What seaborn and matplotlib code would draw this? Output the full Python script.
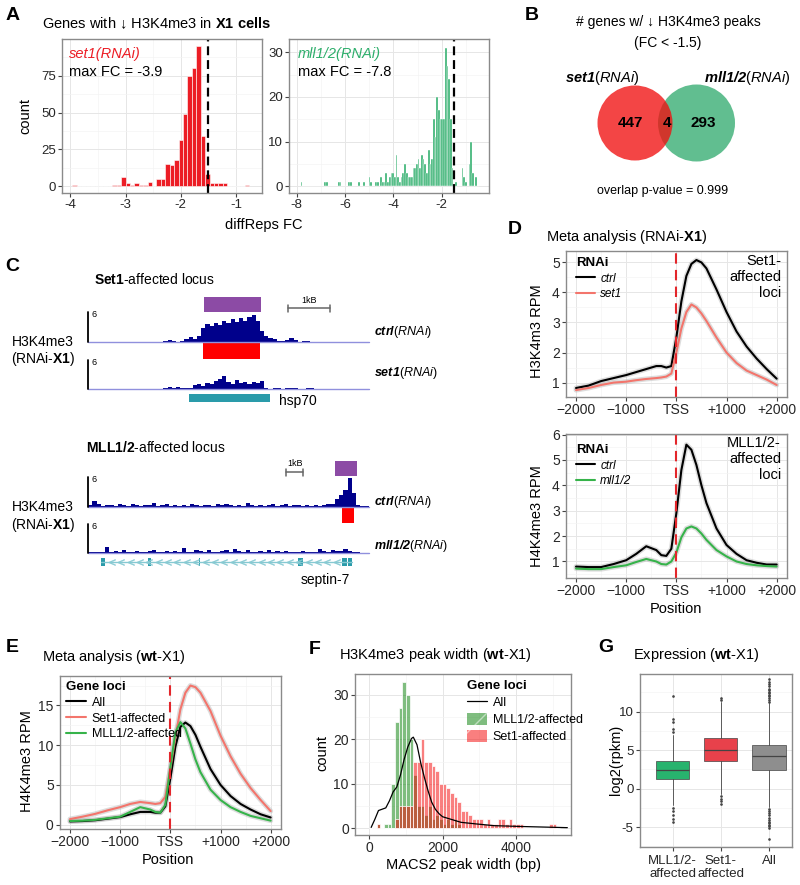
import numpy as np
import pandas as pd
import matplotlib
matplotlib.use("Agg")
import matplotlib.pyplot as plt
import seaborn as sns
from matplotlib.patches import Rectangle, Circle, Patch
from matplotlib.lines import Line2D
from matplotlib.ticker import AutoMinorLocator

# === A. diffReps FC histograms (bin centre, count) ===
set1_fc = [-3.92, -3.20, -3.12, -3.04, -2.96, -2.88, -2.80, -2.72, -2.64, -2.56,
           -2.40, -2.32, -2.24, -2.16, -2.08, -2.00, -1.92, -1.84, -1.76, -1.68,
           -1.60, -1.52, -1.44, -1.36, -1.28, -1.20, -0.80]
set1_n = [1, 1, 1, 6, 2, 1, 2, 1, 1, 3,
          5, 5, 15, 14, 18, 31, 49, 75, 80, 95,
          34, 8, 2, 2, 2, 2, 1]

mll_fc = [-7.79, -6.82, -6.75, -6.24, -6.17, -5.85, -5.78, -5.40, -5.20, -4.99,
          -4.92, -4.71, -4.64, -4.50, -4.43, -4.36,
          -4.27, -4.20, -4.13, -4.06, -3.99, -3.92, -3.85, -3.78, -3.71, -3.64,
          -3.57, -3.50, -3.43, -3.36, -3.29, -3.22, -3.15, -3.08, -3.01, -2.94,
          -2.87, -2.80, -2.73, -2.66, -2.59, -2.52, -2.45, -2.38, -2.31, -2.24,
          -2.17, -2.10, -2.03, -1.96, -1.89, -1.82, -1.75, -1.68, -1.61, -1.54,
          -1.45, -1.13, -1.06, -0.99, -0.87, -0.80, -0.73, -0.55]
mll_n = [1, 1, 1, 1, 1, 1, 1, 1, 1, 2,
         1, 1, 1, 2, 1, 1,
         3, 1, 2, 3, 3, 2, 7, 2, 1, 2,
         3, 5, 3, 2, 2, 2, 4, 4, 5, 6,
         4, 7, 6, 5, 3, 8, 5, 6, 15, 11,
         20, 17, 15, 15, 15, 31, 27, 24, 15, 4,
         1, 4, 2, 1, 5, 10, 3, 2]

# === B. venn counts (set1 only, both, mll only) ===
venn_n = [447, 4, 293]
venn_p = 0.999

# === C. coverage tracks ===
# hsp70 locus, 0.1 kb bins
hsp70_ctrl = [0] * 18 + [0.3, 0.4, 0.2, 0.1, 0.2, 0.6, 1.0, 0.6, 1.2, 2.8,
                         3.6, 3.2, 3.9, 3.5, 4.2, 3.8, 4.6, 4.0, 4.9, 4.3,
                         5.0, 5.4, 4.2, 2.3, 1.2, 0.8, 0.6, 0.3, 0.2, 0.5,
                         0.8, 0.5, 0.1, 0.3, 0.3] + [0] * 14
hsp70_set1 = [0] * 18 + [0.3, 0.4, 0.3, 0.4, 0.2, 0.3, 0.2, 0.8, 1.0, 0.7,
                         1.2, 1.1, 1.6, 2.1, 2.6, 1.5, 1.1, 1.8, 1.3, 1.5,
                         1.1, 1.4, 1.2, 1.6, 0.3, 0, 0.3, 0.2, 0, 0.3,
                         0.2, 0.3, 0, 0, 0.3, 0.2] + [0] * 13
hsp70_peak = (2.76, 4.12)
hsp70_diff = (2.74, 4.10)
hsp70_gene = (2.40, 4.33)

# septin-7 locus, 0.25 kb bins
sept_ctrl = [0.3, 1.2, 0.6, 0.2, 0.3, 0.4, 0.2, 0.5, 0.3, 0.2,
             0.6, 0.3, 0.2, 0.4, 0.3, 0.7, 0.2, 0.3, 0.5, 0.2,
             0.3, 0.2, 0.4, 0.2, 0.6, 0.3, 0.2, 0.4, 0.3, 0.2,
             0.5, 0.3, 0.6, 0.4, 0.2, 0.3, 0.2, 0.7, 0.3, 0.2,
             0.4, 0.2, 0.3, 0.5, 0.2, 0.3, 0.6, 0.2, 0.4, 0.3,
             0.2, 0.3, 0.2, 0.4, 0.2, 0.3, 0.6, 0.5, 1.6, 2.4,
             3.3, 5.8, 2.8, 0.3, 0.2, 0.1]
sept_mll = [0.2, 0.3, 0.2, 0.3, 1.3, 0.3, 0.4, 0.2, 0.6, 0.3,
            0.2, 0.5, 0.3, 0.2, 0.4, 0.6, 0.3, 0.2, 0.5, 0.3,
            0.4, 0.3, 1.1, 0.3, 0.2, 0.6, 0.4, 0.3, 0.7, 0.3,
            0.2, 0.5, 0.6, 0.3, 0.8, 0.4, 0.2, 0.7, 0.3, 0.2,
            0.5, 0.3, 0.6, 0.2, 0.4, 0.3, 0.5, 0.2, 0.3, 0.2,
            0.4, 0.3, 0.2, 0.3, 0.9, 0.4, 0.3, 0.6, 0.4, 0.5,
            0.8, 0.4, 0.3, 0.2, 0.1, 0.1]
sept_peak = (14.5, 15.8)
sept_diff = (14.9, 15.6)
sept_gene = (0.76, 15.5)
sept_exons = [(0.76, 1.0), (3.5, 3.7), (6.5, 6.6), (12.35, 12.6), (14.9, 15.2), (15.25, 15.5)]

# === D / E. meta profiles ===
meta_pos = [-2000, -1750, -1500, -1250, -1000, -800, -600, -400, -300, -200, -100, 0,
            100, 200, 300, 400, 500, 600, 800, 1000, 1200, 1400, 1600, 1800, 2000]
d_set1loci_ctrl = [0.82, 0.9, 1.05, 1.15, 1.25, 1.35, 1.45, 1.55, 1.55, 1.5, 1.55, 2.5,
                   3.7, 4.55, 4.95, 5.08, 5.0, 4.8, 4.1, 3.35, 2.7, 2.2, 1.8, 1.45, 1.13]
d_set1loci_kd = [0.75, 0.82, 0.92, 1.0, 1.03, 1.08, 1.12, 1.15, 1.17, 1.2, 1.3, 2.0,
                 2.8, 3.35, 3.6, 3.5, 3.3, 3.05, 2.5, 2.0, 1.65, 1.4, 1.25, 1.1, 0.92]
d_mllloci_ctrl = [0.8, 0.78, 0.78, 0.9, 1.05, 1.3, 1.6, 1.45, 1.25, 1.22, 1.5, 2.9,
                  4.6, 5.6, 5.4, 4.8, 4.0, 3.3, 2.3, 1.65, 1.3, 1.05, 0.95, 0.88, 0.88]
d_mllloci_kd = [0.72, 0.7, 0.7, 0.78, 0.85, 0.98, 1.1, 1.0, 0.9, 0.88, 1.0, 1.35,
                1.95, 2.3, 2.38, 2.3, 2.1, 1.85, 1.45, 1.2, 1.0, 0.9, 0.85, 0.82, 0.8]
e_all = [0.4, 0.45, 0.55, 0.75, 0.95, 1.3, 1.6, 1.6, 1.5, 1.5, 2.3, 5.8,
         9.8, 12.3, 12.85, 12.4, 11.3, 9.8, 7.0, 5.0, 3.6, 2.6, 1.9, 1.3, 0.9]
e_set1 = [0.7, 1.0, 1.35, 1.8, 2.2, 2.6, 2.85, 2.7, 2.6, 2.7, 3.5, 7.0,
          11.0, 14.5, 16.6, 17.5, 17.3, 16.6, 14.3, 11.2, 8.6, 6.4, 4.6, 3.1, 1.7]
e_mll = [0.45, 0.5, 0.6, 0.8, 1.0, 1.6, 2.2, 1.9, 1.6, 1.5, 2.5, 7.2,
         11.6, 12.9, 12.1, 10.2, 8.2, 6.6, 4.4, 3.1, 2.2, 1.6, 1.1, 0.8, 0.5]
pos_labels = ['\u22122000', '\u22121000', 'TSS', '+1000', '+2000']

# === F. MACS2 peak width ===
f_mll_bp = [250, 450, 550, 650, 750, 850, 950, 1050, 1150, 1250, 1350, 1450,
            1550, 1650, 1750, 1850, 1950, 2050, 2150, 2250, 2350, 2450]
f_mll_n = [1, 1, 1, 10, 24, 27, 33, 30, 20, 12, 5, 5,
           3, 5, 2, 3, 2, 1, 2, 1, 2, 1]
f_set1_bp = [250, 750, 850, 950, 1050, 1150, 1250, 1350, 1450, 1550, 1650, 1750, 1850,
             1950, 2050, 2150, 2250, 2350, 2450, 2550, 2650, 2750, 2850, 2950, 3050,
             3150, 3250, 3350, 3450, 3550, 3650, 3750, 3850, 3950, 4050, 4150, 4950,
             5050]
f_set1_n = [1, 2, 5, 5, 5, 5, 15, 15, 20, 15, 15, 14, 13,
            10, 10, 9, 8, 7, 6, 4, 4, 3, 2, 2, 2,
            1, 2, 1, 1, 2, 2, 1, 2, 1, 1, 1, 1,
            1]
f_all_bp = [50, 150, 250, 350, 450, 550, 650, 750, 850, 950, 1050, 1150, 1200, 1300,
            1400, 1500, 1600, 1700, 1800, 1900, 2000, 2200, 2500, 2900, 3400, 4200, 5400]
f_all_y = [0.2, 2.0, 4.0, 4.3, 4.6, 6.2, 8.2, 9.3, 12.0, 15.5, 18.3, 20.2, 20.5, 18.8,
           14.8, 11.5, 8.5, 5.9, 4.3, 3.3, 2.6, 2.1, 1.35, 1.0, 0.6, 0.4, 0.15]

# === G. expression box summaries ===
g_labels = ['MLL1/2-\naffected', 'Set1-\naffected', 'All']
g_med = [2.4, 5.0, 4.2]
g_q1 = [1.3, 3.6, 2.4]
g_q3 = [3.6, 6.6, 5.65]
g_lo = [-2.1, -0.7, -2.4]
g_hi = [7.0, 11.2, 11.1]
g_fliers = [[7.3, 7.7, 8.6, 9.1, 12.1, -2.5, -2.9, -3.5, -3.9, -4.4],
            [11.5, 11.8, -1.0, -1.3, -1.6, -2.0],
            [11.3, 11.5, 11.8, 12.0, 12.2, 12.4, 12.6, 12.8, 13.0, 13.3, 13.6, 13.9, 14.2,
             -2.6, -2.9, -3.2, -3.5, -3.8, -4.1, -4.3, -4.5, -4.7, -4.9, -5.1, -6.6]]

# colours
RED = '#EC1D25'
GREEN_A = '#2DAE6B'
SALMON = '#F3756C'
GREEN_L = '#36B34A'
F_GREEN = '#007D00'
F_RED = '#F50000'

sns.set_theme(style="white")
plt.rcParams['font.family'] = ['Liberation Sans', 'DejaVu Sans']
plt.rcParams['mathtext.fontset'] = 'custom'
plt.rcParams['mathtext.rm'] = 'Liberation Sans'
plt.rcParams['mathtext.it'] = 'Liberation Sans:italic'
plt.rcParams['mathtext.bf'] = 'Liberation Sans:bold'
plt.rcParams['mathtext.bfit'] = 'Liberation Sans:italic:bold'
plt.rcParams['axes.unicode_minus'] = False
plt.rcParams['text.color'] = 'black'

W, H = 800, 885
fig = plt.figure(figsize=(W / 100, H / 100), dpi=100)


def add_ax(x0, y0, x1, y1):
    return fig.add_axes([x0 / W, 1 - y1 / H, (x1 - x0) / W, (y1 - y0) / H])


def put(x, y, s, **kw):
    kw.setdefault('va', 'center')
    return fig.text(x / W, 1 - y / H, s, **kw)


def gg(ax, minor_x=True, minor_y=True, tsize=9.5):
    ax.set_facecolor('white')
    for sp in ax.spines.values():
        sp.set_visible(True)
        sp.set_color('#8A8A8A')
        sp.set_linewidth(1.0)
    if minor_x:
        ax.xaxis.set_minor_locator(AutoMinorLocator(2))
    if minor_y:
        ax.yaxis.set_minor_locator(AutoMinorLocator(2))
    ax.grid(True, which='major', color='#E6E6E6', lw=0.7)
    ax.grid(True, which='minor', color='#F3F3F3', lw=0.45)
    ax.set_axisbelow(True)
    ax.tick_params(which='major', bottom=True, left=True, length=3, width=0.8,
                   color='#444444', labelsize=tsize, pad=1.5)
    ax.tick_params(which='minor', length=0)
    ax.set_xlabel('')
    ax.set_ylabel('')


def letter(x, y, s):
    put(x, y, s, fontsize=14, weight='bold', ha='center')


def hist_counts(ax, centres, counts, bins, **kw):
    df = pd.DataFrame({'x': centres, 'n': counts})
    sns.histplot(data=df, x='x', weights='n', bins=[float(b) for b in bins], ax=ax, **kw)


# ---------------- A ----------------
letter(12.5, 16, 'A')
put(42, 23, 'Genes with \u2193 H3K4me3 in $\\mathbf{X1\\ cells}$', fontsize=10.5)

axA1 = add_ax(62, 39, 262, 193)
hist_counts(axA1, set1_fc, set1_n, np.arange(-3.96, -0.70, 0.08), color=RED,
            alpha=1, edgecolor='white', linewidth=0.4)
axA1.axvline(-1.5, color='black', lw=1.6, ls=(0, (4, 2.2)))
axA1.set_xlim(-4.15, -0.53)
axA1.set_ylim(-4.7, 100)
axA1.set_xticks([-4, -3, -2, -1])
axA1.set_yticks([0, 25, 50, 75])
gg(axA1)

axA2 = add_ax(289, 39, 489, 193)
hist_counts(axA2, mll_fc, mll_n, np.arange(-7.825, -0.45, 0.07), color=GREEN_A,
            alpha=1, edgecolor='white', linewidth=0.3)
axA2.axvline(-1.5, color='black', lw=1.6, ls=(0, (4, 2.2)))
axA2.set_xlim(-8.31, -0.05)
axA2.set_ylim(-1.55, 33)
axA2.set_xticks([-8, -6, -4, -2])
axA2.set_yticks([0, 10, 20, 30])
gg(axA2)

put(69, 54, 'set1(RNAi)', color=RED, style='italic', fontsize=10.5)
put(69, 72, 'max FC = -3.9', fontsize=10.5)
put(298, 54, 'mll1/2(RNAi)', color=GREEN_A, style='italic', fontsize=10.5)
put(298, 72, 'max FC = -7.8', fontsize=10.5)
put(25, 116, 'count', rotation=90, ha='center', fontsize=10.5)
put(264, 225, 'diffReps FC', ha='center', fontsize=10.5)

# ---------------- B ----------------
letter(532, 16, 'B')
put(668, 22, '# genes w/ \u2193 H3K4me3 peaks', ha='center', fontsize=10)
put(668, 43, '(FC < -1.5)', ha='center', fontsize=10)
put(602, 78, r'$\mathbfit{set1}\mathit{(RNAi)}$', ha='center', fontsize=10.5)
put(747, 78, r'$\mathbfit{mll1/2}\mathit{(RNAi)}$', ha='center', fontsize=10.5)

axB = add_ax(580, 80, 760, 170)
axB.set_xlim(580, 760)
axB.set_ylim(170, 80)
axB.axis('off')
axB.add_patch(Circle((696.5, 123), 38.5, color='#3AAE74', alpha=0.8, lw=0))
axB.add_patch(Circle((635, 123), 37.5, color='#F01010', alpha=0.78, lw=0))
for xx, nn in zip([630, 667, 703], venn_n):
    axB.text(xx, 123, str(nn), ha='center', va='center', fontsize=11, weight='bold')
put(663, 191, f'overlap p-value = {venn_p}', ha='center', fontsize=9)

# ---------------- C ----------------
letter(12.5, 266, 'C')
put(94, 280, r'$\mathbf{Set1}$-affected locus', fontsize=10)
put(86, 448, r'$\mathbf{MLL1/2}$-affected locus', fontsize=10)

NAVY = '#00008B'
PURPLE = '#8C4BA5'
TEAL = '#2A9BAA'


def track(y0, y1, xmax, cov, step):
    ax = add_ax(88, y0, 369, y1)
    xs = np.arange(len(cov) + 1) * step
    ys = list(cov) + [cov[-1]]
    ax.fill_between(xs, ys, step='post', color=NAVY, lw=0)
    ax.plot([0, xmax], [0, 0], color='#9090DD', lw=1.0, clip_on=False)
    ax.plot([0, 0], [0, 6], color='black', lw=1.3, clip_on=False)
    ax.text(0.012, 0.93, '6', transform=ax.transAxes, fontsize=6.5, ha='left', va='center')
    ax.set_xlim(0, xmax)
    ax.set_ylim(0, 6)
    ax.axis('off')
    return ax


# hsp70 locus (6.7 kb window)
axc1 = add_ax(88, 290, 369, 410)
axc1.set_xlim(0, 6.7)
axc1.set_ylim(410, 290)
axc1.axis('off')
axc1.add_patch(Rectangle((hsp70_peak[0], 297), hsp70_peak[1] - hsp70_peak[0], 15, color=PURPLE, lw=0))
axc1.add_patch(Rectangle((hsp70_diff[0], 343), hsp70_diff[1] - hsp70_diff[0], 16, color='#FF0000', lw=0))
axc1.add_patch(Rectangle((hsp70_gene[0], 394), hsp70_gene[1] - hsp70_gene[0], 8, color=TEAL, lw=0))
axc1.plot([4.76, 5.76], [308, 308], color='#666666', lw=1.1)
axc1.plot([4.76, 4.76], [304.5, 311.5], color='#666666', lw=1.1)
axc1.plot([5.76, 5.76], [304.5, 311.5], color='#666666', lw=1.1)
axc1.text(5.26, 300, '1kB', fontsize=6.5, ha='center', va='center')
axc1.text(4.55, 401, 'hsp70', fontsize=10, ha='left', va='center')
track(312, 342, 6.7, hsp70_ctrl, 0.1)
track(360, 389, 6.7, hsp70_set1, 0.1)

# septin-7 locus (16.5 kb window)
axc2 = add_ax(88, 455, 369, 590)
axc2.set_xlim(0, 16.5)
axc2.set_ylim(590, 455)
axc2.axis('off')
axc2.add_patch(Rectangle((sept_peak[0], 461), sept_peak[1] - sept_peak[0], 15, color=PURPLE, lw=0))
axc2.add_patch(Rectangle((sept_diff[0], 508), sept_diff[1] - sept_diff[0], 15, color='#FF0000', lw=0))
axc2.plot([11.65, 12.65], [472, 472], color='#666666', lw=1.1)
axc2.plot([11.65, 11.65], [468.5, 475.5], color='#666666', lw=1.1)
axc2.plot([12.65, 12.65], [468.5, 475.5], color='#666666', lw=1.1)
axc2.text(12.15, 463, '1kB', fontsize=6.5, ha='center', va='center')
axc2.plot(list(sept_gene), [562, 562], color='#86C9D2', lw=1.0)
chev = np.arange(1.4, 14.8, 0.55)
axc2.plot(chev, [562] * len(chev), ls='none', marker=r'$<$', markersize=4.5,
          color='#86C9D2', mew=0.3)
for s, e in sept_exons:
    axc2.add_patch(Rectangle((s, 558), e - s, 8, color=TEAL, lw=0))
axc2.text(13.94, 580, 'septin-7', fontsize=10, ha='center', va='center')
track(477, 507, 16.5, sept_ctrl, 0.25)
track(524, 553, 16.5, sept_mll, 0.25)

put(43, 342, 'H3K4me3', ha='center', fontsize=10)
put(43, 359, r'(RNAi-$\mathbf{X1}$)', ha='center', fontsize=10)
put(43, 507, 'H3K4me3', ha='center', fontsize=10)
put(43, 525, r'(RNAi-$\mathbf{X1}$)', ha='center', fontsize=10)
put(374, 332, r'$\mathbfit{ctrl}\mathit{(RNAi)}$', fontsize=9)
put(374, 373, r'$\mathbfit{set1}\mathit{(RNAi)}$', fontsize=9)
put(374, 502, r'$\mathbfit{ctrl}\mathit{(RNAi)}$', fontsize=9)
put(374, 546, r'$\mathbfit{mll1/2}\mathit{(RNAi)}$', fontsize=9)


# ---------------- D / E ----------------
def meta(ax, series, names, colors):
    df = pd.DataFrame({'pos': np.tile(meta_pos, len(series)),
                       'rpm': np.concatenate([np.asarray(s, float) for s in series]),
                       'grp': np.repeat(names, len(meta_pos))})
    sns.lineplot(data=df, x='pos', y='rpm', hue='grp', hue_order=names,
                 palette=dict(zip(names, ['#B5B5B5'] * len(names))),
                 linewidth=3.6, alpha=0.45, legend=False, ax=ax)
    sns.lineplot(data=df, x='pos', y='rpm', hue='grp', hue_order=names,
                 palette=dict(zip(names, colors)), linewidth=1.5, legend=False, ax=ax)
    ax.axvline(0, color='#E3262B', lw=1.5, ls=(0, (5, 3)))
    ax.set_xlim(-2200, 2206)
    ax.set_xticks([-2000, -1000, 0, 1000, 2000])
    ax.set_xticklabels(pos_labels)


def meta_legend(ax, names, colors, title, x, y, italic):
    hs = [Line2D([], [], color=c, lw=1.5) for c in colors]
    prop = {'size': 8.5 if italic else 9}
    if italic:
        prop['style'] = 'italic'
    ax.legend(hs, names, title=title, loc='upper left', bbox_to_anchor=(x / W, 1 - y / H),
              bbox_transform=fig.transFigure, frameon=False, prop=prop,
              title_fontproperties={'weight': 'bold', 'size': 9.5},
              handlelength=1.6, handletextpad=0.45, labelspacing=0.3, borderpad=0,
              borderaxespad=0, alignment='left')


letter(515, 230, 'D')
put(546, 237, r'Meta analysis (RNAi-$\mathbf{X1}$)', fontsize=10.5)

axD1 = add_ax(566, 251, 787, 397)
meta(axD1, [d_set1loci_ctrl, d_set1loci_kd], ['ctrl', 'set1'], ['black', SALMON])
axD1.set_ylim(0.52, 5.38)
axD1.set_yticks([1, 2, 3, 4, 5])
gg(axD1, tsize=10)
meta_legend(axD1, ['ctrl', 'set1'], ['black', SALMON], 'RNAi', 576, 257, True)
put(781, 254, 'Set1-\naffected\nloci', ha='right', va='top', fontsize=10.5, linespacing=1.2)
put(537, 331, 'H3K4m3 RPM', rotation=90, ha='center', fontsize=10.5)

axD2 = add_ax(566, 434, 787, 578)
meta(axD2, [d_mllloci_ctrl, d_mllloci_kd], ['ctrl', 'mll1/2'], ['black', GREEN_L])
axD2.set_ylim(0.35, 6.02)
axD2.set_yticks([1, 2, 3, 4, 5, 6])
gg(axD2, tsize=10)
meta_legend(axD2, ['ctrl', 'mll1/2'], ['black', GREEN_L], 'RNAi', 576, 444, True)
put(781, 436, 'MLL1/2-\naffected\nloci', ha='right', va='top', fontsize=10.5, linespacing=1.2)
put(537, 516, 'H4K4me3 RPM', rotation=90, ha='center', fontsize=10.5)
put(676, 609, 'Position', ha='center', fontsize=10.5)

letter(12.5, 647, 'E')
put(42, 657, r'Meta analysis ($\mathbf{wt}$-X1)', fontsize=10.5)
axE = add_ax(60, 676, 281, 829)
meta(axE, [e_all, e_set1, e_mll], ['All', 'Set1-affected', 'MLL1/2-affected'],
     ['black', SALMON, GREEN_L])
axE.set_ylim(-0.55, 18.7)
axE.set_yticks([0, 5, 10, 15])
gg(axE, tsize=10)
meta_legend(axE, ['All', 'Set1-affected', 'MLL1/2-affected'], ['black', SALMON, GREEN_L],
            'Gene loci', 66, 681, False)
put(27, 761, 'H4K4me3 RPM', rotation=90, ha='center', fontsize=10.5)
put(168, 860, 'Position', ha='center', fontsize=10.5)

# ---------------- F ----------------
letter(315, 649, 'F')
put(339, 655, r'H3K4me3 peak width ($\mathbf{wt}$-X1)', fontsize=10.5)
axF = add_ax(355, 674, 571, 835)
wbins = np.arange(0, 5300, 100)
hist_counts(axF, f_mll_bp, f_mll_n, wbins, color=F_GREEN, alpha=0.5,
            edgecolor='white', linewidth=0.5)
hist_counts(axF, f_set1_bp, f_set1_n, wbins, color=F_RED, alpha=0.5,
            edgecolor='white', linewidth=0.5)
sns.lineplot(x=f_all_bp, y=f_all_y, color='black', linewidth=0.9, ax=axF)
axF.set_xlim(-390, 5500)
axF.set_ylim(-1.5, 34.7)
axF.set_xticks([0, 2000, 4000])
axF.set_yticks([0, 10, 20, 30])
gg(axF, tsize=10)
f_handles = [Line2D([], [], color='black', lw=0.9),
             Patch(facecolor=F_GREEN, alpha=0.5, edgecolor='white', hatch='/', lw=0),
             Patch(facecolor=F_RED, alpha=0.5, edgecolor='white', hatch='/', lw=0)]
axF.legend(f_handles, ['All', 'MLL1/2-affected', 'Set1-affected'], title='Gene loci',
           loc='upper left', bbox_to_anchor=(467 / W, 1 - 680 / H),
           bbox_transform=fig.transFigure, frameon=False, prop={'size': 9},
           title_fontproperties={'weight': 'bold', 'size': 9.5}, handlelength=1.6,
           handleheight=1.1, handletextpad=0.45, labelspacing=0.3, borderpad=0,
           borderaxespad=0, alignment='left')
put(322, 753, 'count', rotation=90, ha='center', fontsize=10.5)
put(464, 865, 'MACS2 peak width (bp)', ha='center', fontsize=10.5)

# ---------------- G ----------------
letter(606, 648, 'G')
put(633, 655, r'Expression ($\mathbf{wt}$-X1)', fontsize=10.5)
axG = add_ax(640, 674, 792, 847)
stats = [dict(med=m, q1=a, q3=b, whislo=lo, whishi=hi, fliers=fl)
         for m, a, b, lo, hi, fl in zip(g_med, g_q1, g_q3, g_lo, g_hi, g_fliers)]
bp = axG.bxp(stats, positions=[0, 1, 2], widths=0.69, patch_artist=True, manage_ticks=False,
             showcaps=False,
             boxprops=dict(edgecolor='#444444', lw=0.5),
             medianprops=dict(color='#444444', lw=0.9),
             whiskerprops=dict(color='#444444', lw=0.6),
             flierprops=dict(marker='o', markersize=0.9, markerfacecolor='#444444',
                             markeredgecolor='#444444', ls='none'))
for patch, col in zip(bp['boxes'], ['#28B36E', '#E8414B', '#8E8E8E']):
    patch.set_facecolor(col)
axG.set_xlim(-0.68, 2.48)
axG.set_ylim(-7.6, 14.9)
axG.set_xticks([0, 1, 2])
axG.set_xticklabels(g_labels, linespacing=1.05)
axG.set_yticks([-5, 0, 5, 10])
gg(axG, minor_x=False, tsize=9.5)
axG.tick_params(axis='x', pad=3)
put(616, 760, 'log2(rpkm)', rotation=90, ha='center', fontsize=10.5)

fig.savefig('out.png', dpi=100)
